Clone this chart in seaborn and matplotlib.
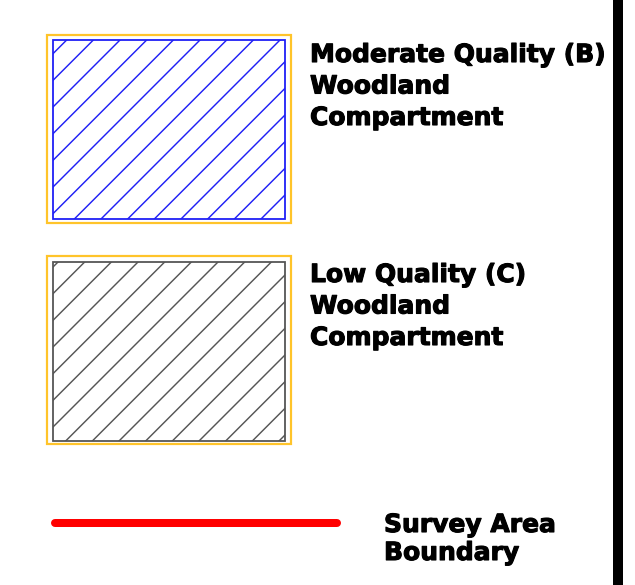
import matplotlib
matplotlib.use("Agg")
import seaborn as sns
import matplotlib.pyplot as plt
import matplotlib.patheffects as pe
from matplotlib.patches import Rectangle

# legend entries
labels_b = ["Moderate Quality (B)", "Woodland", "Compartment"]
labels_c = ["Low Quality (C)", "Woodland", "Compartment"]
labels_line = ["Survey Area", "Boundary"]
fill_colors = ["#1f1ff5", "#555555"]
frame_color = "#ffc42a"
line_color = "#ff0000"

DPI = 160
W, H = 635, 585

sns.set_theme(style="white")
plt.rcParams["font.family"] = ["DejaVu Sans"]
plt.rcParams["hatch.linewidth"] = 0.65

fig = plt.figure(figsize=(W / DPI, H / DPI), dpi=DPI)
ax = fig.add_axes([0, 0, 1, 1])
ax.set_xlim(0, W)
ax.set_ylim(H, 0)
ax.axis("off")

px = 72 / DPI  # one pixel in points

# hatched boxes with a yellow frame
boxes = [(40, 219), (262, 441)]
frames = [(35, 223), (256, 444)]
for (top, bot), (ftop, fbot), col in zip(boxes, frames, fill_colors):
    ax.add_patch(Rectangle((47, ftop), 244, fbot - ftop, fill=False,
                           edgecolor=frame_color, lw=2.2 * px))
    ax.add_patch(Rectangle((53, top), 232, bot - top, facecolor="white",
                           edgecolor=col, hatch="//", lw=1.8 * px))

# survey boundary line
sns.lineplot(x=[55, 337], y=[523, 523], color=line_color, lw=8 * px,
             solid_capstyle="round", ax=ax)

# black bar on the right edge
ax.add_patch(Rectangle((613, 0), 10, H, color="black", lw=0))

fs = 25 * px
heavy = [pe.withStroke(linewidth=1.1 * px, foreground="black")]
for lines, x0, y0, step in [(labels_b, 310, 62, 31.5),
                            (labels_c, 310, 282, 31.5),
                            (labels_line, 384, 532, 28)]:
    for i, t in enumerate(lines):
        ax.text(x0, y0 + i * step, t, fontsize=fs, fontweight="bold",
                color="black", va="baseline", ha="left", path_effects=heavy)

ax.set_xlim(0, W)
ax.set_ylim(H, 0)
fig.savefig("out.png", dpi=DPI)
